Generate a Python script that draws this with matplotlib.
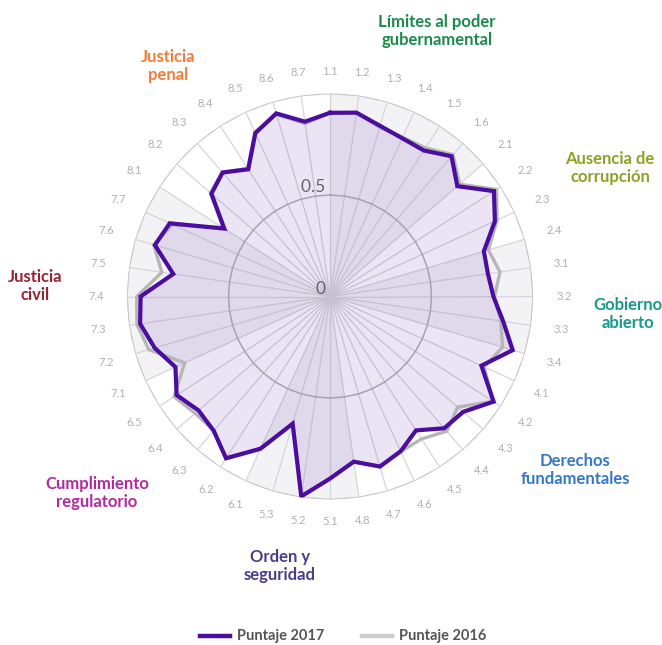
import numpy as np
import matplotlib
matplotlib.use("Agg")
import matplotlib.pyplot as plt

# subfactores del índice, en el orden de las agujas del reloj
subfactores = ["1.1", "1.2", "1.3", "1.4", "1.5", "1.6",
               "2.1", "2.2", "2.3", "2.4",
               "3.1", "3.2", "3.3", "3.4",
               "4.1", "4.2", "4.3", "4.4", "4.5", "4.6", "4.7", "4.8",
               "5.1", "5.2", "5.3",
               "6.1", "6.2", "6.3", "6.4", "6.5",
               "7.1", "7.2", "7.3", "7.4", "7.5", "7.6", "7.7",
               "8.1", "8.2", "8.3", "8.4", "8.5", "8.6", "8.7"]

puntaje_2017 = [0.905, 0.915, 0.876, 0.857, 0.855, 0.914,
                0.830, 0.960, 0.893, 0.790,
                0.786, 0.805, 0.862, 0.938,
                0.820, 0.958, 0.868, 0.859, 0.784, 0.838, 0.873, 0.822,
                0.897, 0.995, 0.653,
                0.824, 0.947, 0.875, 0.857, 0.898,
                0.837, 0.900, 0.945, 0.933, 0.780, 0.899, 0.868,
                0.619, 0.773, 0.808, 0.745, 0.885, 0.940, 0.870]

puntaje_2016 = [0.905, 0.915, 0.868, 0.862, 0.870, 0.925,
                0.845, 0.975, 0.905, 0.813,
                0.846, 0.810, 0.850, 0.886,
                0.835, 0.955, 0.832, 0.878, 0.834, 0.840, 0.873, 0.822,
                0.897, 0.990, 0.653,
                0.830, 0.950, 0.874, 0.879, 0.913,
                0.787, 0.930, 0.961, 0.952, 0.837, 0.905, 0.852,
                0.625, 0.780, 0.810, 0.750, 0.890, 0.935, 0.860]

factores = ["Límites al poder\ngubernamental", "Ausencia de\ncorrupción",
            "Gobierno\nabierto", "Derechos\nfundamentales",
            "Orden y\nseguridad", "Cumplimiento\nregulatorio",
            "Justicia\ncivil", "Justicia\npenal"]
colores_factores = ["#1d8a4c", "#8aa326", "#17998a", "#3478c6",
                    "#4a3b8c", "#b22a9e", "#9b2233", "#f47c3c"]

MORADO = "#4b0d9e"
GRIS = "#b6b6b6"

W, H = 662, 645
fig = plt.figure(figsize=(W / 100, H / 100), dpi=100)
cx, cy, R = 330, 296.5, 203
ax = fig.add_axes([(cx - R) / W, (H - cy - R) / H, 2 * R / W, 2 * R / H],
                  projection="polar")
ax.set_theta_zero_location("N")
ax.set_theta_direction(-1)
ax.set_ylim(0, 1)
ax.grid(False)
ax.set_xticks([])
ax.set_yticks([])
ax.spines["polar"].set_visible(False)
ax.patch.set_alpha(0)

n = len(subfactores)
ang = np.arange(n) * 2 * np.pi / n
ang_c = np.r_[ang, 2 * np.pi]

# franjas sombreadas (de radio a radio, índices de los subfactores)
for ini, fin in [(0, 6), (9, 13), (21, 25), (30, 37)]:
    t = ang_c[ini:fin + 1]
    ax.fill(np.r_[0, t], np.r_[0, np.ones(len(t))], color="#f3f2f5",
            lw=0, zorder=0)

# radios y anillos de la rejilla
for t in ang:
    ax.plot([t, t], [0, 1], color="#d6d6d6", lw=0.9, zorder=1)
cerrar = np.r_[ang, ang[0]]
ax.plot(cerrar, np.full(n + 1, 0.5), color="#b3b3b3", lw=1.1, zorder=1)
ax.plot(cerrar, np.ones(n + 1), color="#c6c6c6", lw=1.1, zorder=1)

# series
v17 = np.r_[puntaje_2017, puntaje_2017[0]]
v16 = np.r_[puntaje_2016, puntaje_2016[0]]
ax.fill(cerrar, v17, color=(75 / 255, 15 / 255, 160 / 255, 0.11), lw=0,
        zorder=2)
ax.plot(cerrar, v16, color=GRIS, lw=2.4, zorder=3, solid_joinstyle="miter")
ax.plot(cerrar, v17, color=MORADO, lw=3.0, zorder=4, solid_joinstyle="miter")

# etiquetas de subfactores
for t, s in zip(ang, subfactores):
    rr = 1 + (22 + 9 * abs(np.sin(t))) / R
    ax.text(t, rr, s, ha="center", va="center", fontsize=8,
            color="#b0b0b0", family="Lato")

# etiquetas del eje radial
ax.text(0, 0.5, "0.5 ", ha="right", va="bottom", fontsize=12.5,
        color="#666666", family="Lato", zorder=5)
ax.text(0, 0.0, "0 ", ha="right", va="bottom", fontsize=12.5,
        color="#666666", family="Lato", zorder=5)
for t in ax.texts:
    t.set_clip_on(False)

# nombres de los factores
pos_factores = [(437, 31), (610, 168), (628, 314), (575, 470),
                (280, 566), (97, 493), (35, 286), (168, 66)]
for nombre, color, (px, py) in zip(factores, colores_factores, pos_factores):
    fig.text(px / W, 1 - py / H, nombre, ha="center", va="center",
             fontsize=12, color=color, family="Lato", weight="bold",
             linespacing=1.2)

# leyenda
for x0, color, etiqueta in [(200, MORADO, "Puntaje 2017"),
                            (362, "#cccccc", "Puntaje 2016")]:
    fig.add_artist(plt.Line2D([x0 / W, (x0 + 30) / W],
                              [1 - 636 / H, 1 - 636 / H],
                              color=color, lw=3.2))
    fig.text((x0 + 37) / W, 1 - 636 / H, etiqueta, ha="left", va="center",
             fontsize=10.5, color="#555555", family="Lato", weight="bold")

fig.savefig("out.png", dpi=100)
